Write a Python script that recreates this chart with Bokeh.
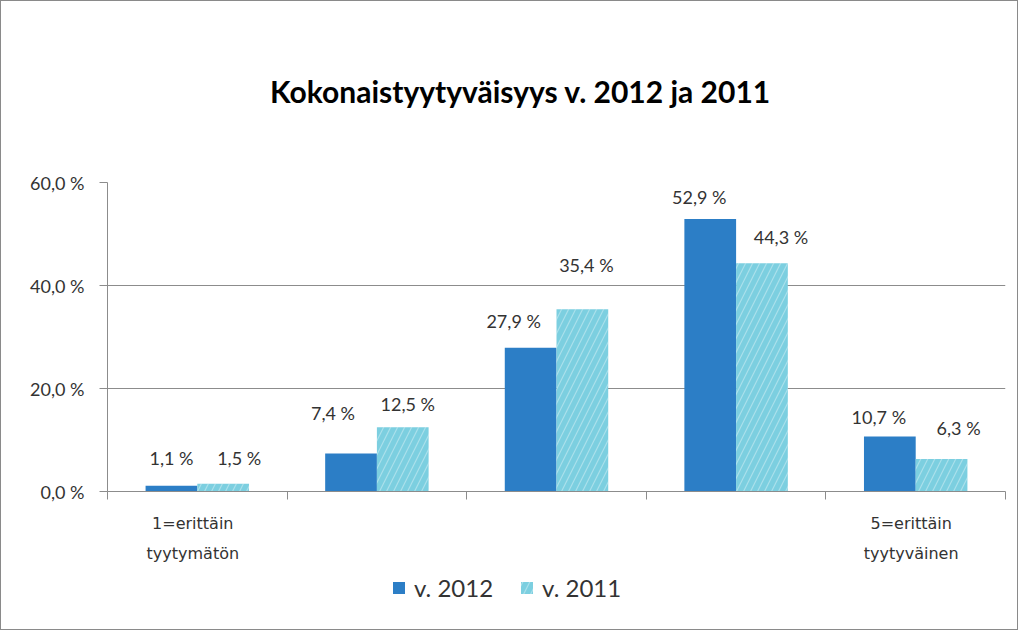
import numpy as np
from bokeh.plotting import figure
from bokeh.layouts import column
from bokeh.models import (ColumnDataSource, Range1d, FixedTicker, LinearAxis, Legend,
                          LegendItem)
from bokeh.core.properties import value
from bokeh.embed import file_html
from bokeh.resources import INLINE

# ---- data ----
title_text = "Kokonaistyytyväisyys v. 2012 ja 2011"
category_labels = ["1=erittäin\ntyytymätön", "", "", "", "5=erittäin\ntyytyväinen"]
series_names = ["v. 2012", "v. 2011"]
v2012 = [1.1, 7.4, 27.9, 52.9, 10.7]
v2011 = [1.5, 12.5, 35.4, 44.3, 6.3]
y_ticks = [0, 20, 40, 60]

# ---- label placement (style, pixels) ----
dx2012 = [0, -18, -17, -11, -11]
dy2012 = [28, 40, 27, 22, 19]
dx2011 = [16, 5, 4, 19, 17]
dy2011 = [26, 23, 44, 26, 31]

FONT = "Lato"
TXT = "#333333"
GRID = "#8c8c8c"
BLUE = "#2C7EC6"
CYAN = "#7CCFE0"
W = 1016
LEFT, RIGHT = 106, 12   # frame borders shared by the stacked figures

def fmt(v):
    return (f"{v:.1f} %").replace(".", ",")

def blank(fig):
    fig.outline_line_color = None
    fig.xgrid.visible = False
    fig.ygrid.visible = False
    fig.min_border_left = LEFT
    fig.min_border_right = RIGHT
    fig.min_border_top = fig.min_border_bottom = 0

# ---- title strip (x in page pixels) ----
TH = 160
pt = figure(width=W, height=TH, output_backend="svg", toolbar_location=None,
            x_range=Range1d(LEFT, W - RIGHT), y_range=Range1d(0, TH),
            x_axis_location=None, y_axis_location=None)
blank(pt)
pt.text(x=[519], y=[TH - 89], text=[title_text], text_align="center",
        text_baseline="middle", text_font=value(FONT), text_font_size="30px",
        text_font_style="bold", text_color="#000000")

# ---- main chart ----
n = len(v2012)
centers = np.arange(n) + 0.5
bw = 0.288
off = 0.144

src12 = ColumnDataSource(dict(x=centers - off, top=v2012,
                              lab=[fmt(v) for v in v2012],
                              dx=dx2012, dy=[-d for d in dy2012]))
src11 = ColumnDataSource(dict(x=centers + off, top=v2011,
                              lab=[fmt(v) for v in v2011],
                              dx=dx2011, dy=[-d for d in dy2011]))

p = figure(width=W, height=21 + 309 + 82, output_backend="svg", toolbar_location=None,
           x_range=Range1d(0, n), y_range=Range1d(0, 60),
           min_border_left=LEFT, min_border_right=RIGHT, min_border_top=21,
           min_border_bottom=82, x_axis_location=None, y_axis_location=None)
p.outline_line_color = None

ya = LinearAxis(ticker=FixedTicker(ticks=y_ticks),
                major_label_overrides={v: fmt(v) for v in y_ticks})
ya.axis_line_color = GRID
ya.major_tick_line_color = GRID
ya.major_tick_out = 8
ya.major_tick_in = 0
ya.minor_tick_line_color = None
ya.major_label_standoff = 15
ya.major_label_text_font = FONT
ya.major_label_text_font_size = "18px"
ya.major_label_text_color = TXT
p.add_layout(ya, "left")

xa = LinearAxis(ticker=FixedTicker(ticks=list(range(n + 1))),
                major_label_overrides={i: "" for i in range(n + 1)})
xa.axis_line_color = GRID
xa.major_tick_line_color = GRID
xa.major_tick_out = 8
xa.major_tick_in = 0
xa.minor_tick_line_color = None
xa.major_label_standoff = 0
xa.major_label_text_font_size = "1px"
p.add_layout(xa, "below")

xa2 = LinearAxis(ticker=FixedTicker(ticks=list(centers - 0.025)),
                 major_label_overrides={float(c - 0.025): lab
                                        for c, lab in zip(centers, category_labels)})
xa2.axis_line_color = None
xa2.major_tick_line_color = None
xa2.minor_tick_line_color = None
xa2.major_label_standoff = 8
xa2.major_label_text_font = "DejaVu Sans"
xa2.major_label_text_font_size = "16px"
xa2.major_label_text_line_height = 1.6
xa2.major_label_text_color = TXT
p.add_layout(xa2, "below")

p.xgrid.visible = False
p.ygrid.ticker = FixedTicker(ticks=y_ticks)
p.ygrid.grid_line_color = GRID
p.ygrid.grid_line_width = 1

bar12 = dict(fill_color=BLUE, line_color=None)
bar11 = dict(fill_color=CYAN, line_color=None, hatch_pattern="/", hatch_color="white",
             hatch_alpha=0.35, hatch_scale=14, hatch_weight=1.2)

p.vbar(x="x", top="top", width=bw, source=src12, **bar12)
p.vbar(x="x", top="top", width=bw, source=src11, **bar11)

for s in (src12, src11):
    p.text(x="x", y="top", text="lab", source=s, x_offset="dx", y_offset="dy",
           text_align="center", text_baseline="middle",
           text_font=value(FONT), text_font_size="18px", text_color=TXT)

# ---- legend strip (same series renderers, viewed out of range) ----
LH = 56
pl = figure(width=W, height=LH, output_backend="svg", toolbar_location=None,
            x_range=Range1d(0, n), y_range=Range1d(1000, 1001),
            x_axis_location=None, y_axis_location=None)
blank(pl)
l12 = pl.vbar(x="x", top="top", width=bw, source=src12, **bar12)
l11 = pl.vbar(x="x", top="top", width=bw, source=src11, **bar11)
legend = Legend(items=[LegendItem(label=series_names[0], renderers=[l12]),
                       LegendItem(label=series_names[1], renderers=[l11])],
                orientation="horizontal", location=(284, 27))
legend.border_line_color = None
legend.background_fill_alpha = 0
legend.glyph_width = 15
legend.glyph_height = 15
legend.label_standoff = 8
legend.spacing = 26
legend.label_text_font = FONT
legend.label_text_font_size = "24px"
legend.label_text_color = TXT
legend.padding = 0
legend.margin = 0
pl.add_layout(legend, "center")

layout = column(pt, p, pl, spacing=0)
layout.styles = {"border": "1px solid #8a8a8a"}

open("out.html", "w").write(file_html(layout, INLINE))
